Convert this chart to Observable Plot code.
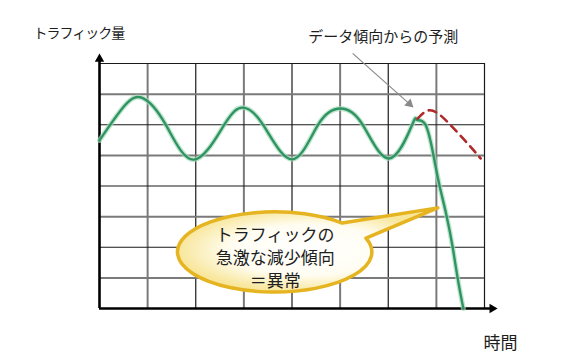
<!DOCTYPE html>
<html>
<head>
<meta charset="utf-8">
<script src="https://cdn.jsdelivr.net/npm/d3@7"></script>
<script src="https://cdn.jsdelivr.net/npm/@observablehq/plot@0.6"></script>
<style>
  html, body { margin: 0; padding: 0; background: #fff; }
</style>
</head>
<body>
<div id="chart"></div>
<script>
// ---- data ----
const gridX = [1, 2, 3, 4, 5, 6, 7, 8];
const gridY = [1, 2, 3, 4, 5, 6, 7, 8];

// observed traffic (time, level): extremes and mid-level crossings
const trafficT = [0, 0.52, 0.90, 1.37, 1.96, 2.60, 2.97, 3.39, 4.00, 4.55, 5.01, 5.46, 6.02, 6.50, 6.59, 6.77, 6.94, 7.065, 7.21, 7.34, 7.44, 7.56];
const trafficV = [5.49, 6.62, 6.87, 6.02, 4.86, 6.02, 6.56, 6.02, 4.87, 6.02, 6.53, 6.02, 4.90, 6.01, 6.16, 6.01, 5.00, 4.02, 3.04, 1.99, 1.01, 0];

// forecast from the data trend
const forecastT = [6.61, 6.84, 7.09, 7.36, 7.65, 7.92];
const forecastV = [6.20, 6.47, 6.30, 5.88, 5.39, 4.90];

const yLabel = "トラフィック量";
const xLabel = "時間";
const forecastLabel = "データ傾向からの予測";
const calloutText = "トラフィックの\n急激な減少傾向\n＝異常";

// ---- derived tables ----
const traffic = trafficT.map((t, i) => ({t, v: trafficV[i]}));
const forecast = forecastT.map((t, i) => ({t, v: forecastV[i]}));

// ---- layout constants (data units) ----
const xAxisEnd = 8.16, yAxisEnd = 8.15;
const calloutC = [3.65, 1.83], calloutR = [2.02, 1.31], calloutTip = [7.04, 3.27];
const tailAngles = [-20, -46];

function calloutMark(index, scales) {
  const {x, y} = scales;
  const ns = "http://www.w3.org/2000/svg";
  const cx = x(calloutC[0]), cy = y(calloutC[1]);
  const rx = x(calloutC[0] + calloutR[0]) - cx;
  const ry = cy - y(calloutC[1] + calloutR[1]);
  const p = (deg) => {
    const a = deg * Math.PI / 180;
    return [cx + rx * Math.cos(a), cy + ry * Math.sin(a)];
  };
  const [a1, a2] = tailAngles.map(p);
  const tx = x(calloutTip[0]), ty = y(calloutTip[1]);
  const g = document.createElementNS(ns, "g");
  const defs = document.createElementNS(ns, "defs");
  defs.innerHTML = `<radialGradient id="cgrad" cx="50%" cy="50%" r="50%">
      <stop offset="0%" stop-color="#ffffff"/>
      <stop offset="60%" stop-color="#fffdf2"/>
      <stop offset="100%" stop-color="#f8e69a"/>
    </radialGradient>`;
  g.appendChild(defs);
  const path = document.createElementNS(ns, "path");
  path.setAttribute("d",
    `M${a1[0]},${a1[1]} A${rx},${ry} 0 1 1 ${a2[0]},${a2[1]} L${tx},${ty} Z`);
  path.setAttribute("fill", "url(#cgrad)");
  path.setAttribute("stroke", "#e5b420");
  path.setAttribute("stroke-width", "3.5");
  path.setAttribute("stroke-linejoin", "round");
  g.appendChild(path);
  return g;
}

const font = "'Noto Sans CJK JP', 'Noto Sans', sans-serif";

const chart = Plot.plot({
  width: 567,
  height: 364,
  marginLeft: 99,
  marginRight: 83,
  marginTop: 63,
  marginBottom: 56,
  x: {domain: [0, 8], axis: null},
  y: {domain: [0, 8], axis: null},
  style: {background: "#fff", fontFamily: font},
  marks: [
    // grid
    Plot.ruleX(gridX.filter(d => d % 2 === 1), {y1: 0, y2: 8, stroke: "#7a7a7a", strokeWidth: 2}),
    Plot.ruleX(gridX.filter(d => d % 2 === 0), {y1: 0, y2: 8, stroke: "#1a1a1a", strokeWidth: 1.2}),
    Plot.ruleY(gridY.filter(d => d % 2 === 1), {x1: 0, x2: 8, stroke: "#7a7a7a", strokeWidth: 2}),
    Plot.ruleY(gridY.filter(d => d % 2 === 0), {x1: 0, x2: 8, stroke: "#1a1a1a", strokeWidth: 1.2}),
    // axes with arrowheads
    Plot.ruleY([0], {x1: 0, x2: xAxisEnd, stroke: "#000", strokeWidth: 2.6}),
    Plot.ruleX([0], {y1: 0, y2: yAxisEnd, stroke: "#000", strokeWidth: 2.6}),
    Plot.dot([{x: xAxisEnd, y: 0}], {x: "x", y: "y", symbol: "triangle", r: 3.5, fill: "#000", stroke: null, rotate: 90}),
    Plot.dot([{x: 0, y: yAxisEnd}], {x: "x", y: "y", symbol: "triangle", r: 3.5, fill: "#000", stroke: null}),
    // traffic line (soft halo + main stroke)
    Plot.line(traffic, {x: "t", y: "v", curve: "natural", stroke: "#a6dcbc", strokeWidth: 5, strokeOpacity: 0.7}),
    Plot.line(traffic, {x: "t", y: "v", curve: "natural", stroke: "#2f9462", strokeWidth: 2.4}),
    // forecast dashed
    Plot.line(forecast, {x: "t", y: "v", curve: "natural", stroke: "#b0282a", strokeWidth: 2.6, strokeDasharray: "8,6"}),
    // pointer arrow to forecast
    Plot.link([{x1: 5.26, y1: 8.33, x2: 6.44, y2: 6.68}], {x1: "x1", y1: "y1", x2: "x2", y2: "y2", stroke: "#8a8a8a", strokeWidth: 1.2}),
    Plot.dot([{x: 6.44, y: 6.68}], {x: "x", y: "y", symbol: "triangle", r: 3.5, fill: "#8a8a8a", stroke: null, rotate: 132}),
    // callout bubble
    calloutMark,
    Plot.text([calloutText], {x: calloutC[0], y: 1.70, text: d => d, fontSize: 17, lineHeight: 1.353, fill: "#1e1e1e", textAnchor: "middle"}),
    // labels
    Plot.text([yLabel], {x: -1.37, y: 8.98, text: d => d, fontSize: 14, fill: "#1e1e1e", textAnchor: "start"}),
    Plot.text([forecastLabel], {x: 4.34, y: 8.85, text: d => d, fontSize: 15, fill: "#1e1e1e", textAnchor: "start"}),
    Plot.text([xLabel], {x: 7.98, y: -1.14, text: d => d, fontSize: 17, fill: "#1e1e1e", textAnchor: "start"})
  ]
});

d3.select(chart).selectAll("text")
  .filter(function () { return this.textContent === yLabel; })
  .attr("letter-spacing", "-1");

document.getElementById("chart").appendChild(chart);
</script>
</body>
</html>
